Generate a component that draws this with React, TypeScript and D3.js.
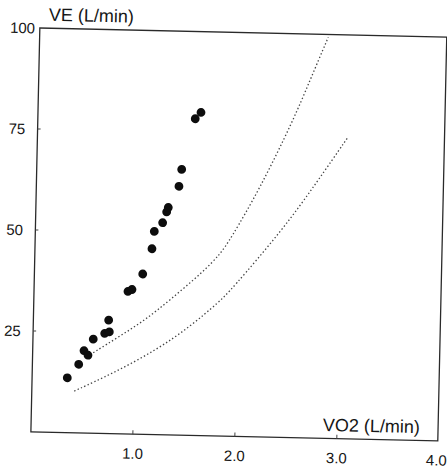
import { useRef, useEffect } from "react";
import * as d3 from "d3";

// VO2 (L/min) vs VE (L/min) measured points
const vo2 = [0.345, 0.454, 0.503, 0.543, 0.591, 0.702, 0.747, 0.738, 0.921, 0.96, 1.062, 1.147, 1.166, 1.246, 1.283, 1.298, 1.398, 1.421, 1.543, 1.598];
const ve = [13.6, 17.0, 20.4, 19.3, 23.3, 24.8, 25.2, 28.1, 35.3, 35.8, 39.7, 46.0, 50.3, 52.5, 55.2, 56.3, 61.6, 65.8, 78.4, 80.0];

// dotted reference curves
const upperX = [0.594, 0.852, 1.094, 1.334, 1.655, 1.815, 1.91, 2.192, 2.505, 2.66, 2.829];
const upperY = [19.95, 24.2, 28.3, 33.4, 40.6, 45.0, 48.6, 61.5, 78.6, 88.6, 99.3];
const lowerX = [0.416, 0.795, 1.214, 1.536, 1.824, 1.92, 2.43, 2.747, 3.047];
const lowerY = [10.35, 15.0, 21.0, 26.9, 33.4, 35.9, 51.6, 63.3, 74.8];

const xTicks = [1, 2, 3, 4];
const yTicks = [25, 50, 75, 100];

export default function App() {
  const svgRef = useRef<SVGSVGElement>(null);

  useEffect(() => {
    const width = 447;
    const height = 468;

    const svg = d3.select(svgRef.current);
    svg.attr("viewBox", `0 0 ${width} ${height}`);
    svg.selectAll("*").remove();

    const x = d3.scaleLinear().domain([0, 4]).range([35.3, 443.3]);
    const y = d3.scaleLinear().domain([0, 100]).range([436.5, 32.5]);

    const font = "Liberation Sans, Arial, sans-serif";
    const ink = "#161616";

    // the scanned figure sits slightly tilted
    const g = svg.append("g").attr("transform", "rotate(1.27, 239, 235)");

    // frame
    g.append("rect")
      .attr("x", x(0))
      .attr("y", y(100))
      .attr("width", x(4) - 1 - x(0))
      .attr("height", y(0) - y(100))
      .attr("fill", "none")
      .attr("stroke", "#2a2a2a")
      .attr("stroke-width", 1.3);

    // x ticks (inward)
    g.append("g")
      .selectAll("line")
      .data(xTicks.slice(0, 3))
      .enter()
      .append("line")
      .attr("x1", (d) => x(d))
      .attr("x2", (d) => x(d))
      .attr("y1", y(0))
      .attr("y2", y(0) - 4)
      .attr("stroke", "#444");

    g.append("g")
      .selectAll("text")
      .data(xTicks)
      .enter()
      .append("text")
      .attr("x", (d) => (d === 4 ? x(d) - 2 : x(d)))
      .attr("y", 461)
      .attr("text-anchor", "middle")
      .attr("fill", ink)
      .attr("font-size", "15px")
      .attr("font-family", font)
      .text((d) => d3.format(".1f")(d));

    // y ticks (inward)
    g.append("g")
      .selectAll("line")
      .data(yTicks.slice(0, 3))
      .enter()
      .append("line")
      .attr("x1", x(0))
      .attr("x2", x(0) + 3)
      .attr("y1", (d) => y(d))
      .attr("y2", (d) => y(d))
      .attr("stroke", "#444");

    g.append("g")
      .selectAll("text")
      .data(yTicks)
      .enter()
      .append("text")
      .attr("x", (d) => (d === 100 ? 30.5 : 23))
      .attr("y", (d) => y(d) + 5.5)
      .attr("text-anchor", "end")
      .attr("fill", ink)
      .attr("font-size", "15px")
      .attr("font-family", font)
      .text((d) => d);

    // axis titles
    g.append("text")
      .attr("x", 44)
      .attr("y", 25)
      .attr("fill", ink)
      .attr("font-size", "18px")
      .attr("font-family", font)
      .text("VE (L/min)");

    g.append("text")
      .attr("x", 327)
      .attr("y", 429)
      .attr("fill", ink)
      .attr("font-size", "18px")
      .attr("font-family", font)
      .text("VO2 (L/min)");

    // dotted curves
    const line = d3
      .line<[number, number]>()
      .x((d) => x(d[0]))
      .y((d) => y(d[1]))
      .curve(d3.curveBasis);

    const curves = [
      d3.zip(upperX, upperY) as [number, number][],
      d3.zip(lowerX, lowerY) as [number, number][],
    ];

    g.append("g")
      .selectAll("path")
      .data(curves)
      .enter()
      .append("path")
      .attr("d", (d) => line(d))
      .attr("fill", "none")
      .attr("stroke", "#444")
      .attr("stroke-width", 1.3)
      .attr("stroke-dasharray", "1.4,2.3");

    // points
    g.append("g")
      .selectAll("circle")
      .data(d3.zip(vo2, ve))
      .enter()
      .append("circle")
      .attr("cx", (d) => x(d[0]))
      .attr("cy", (d) => y(d[1]))
      .attr("r", 4.4)
      .attr("fill", "#0d0d0d");
  }, []);

  return (
    <svg
      ref={svgRef}
      width={447}
      height={468}
      style={{ position: "absolute", left: 0, top: 0, background: "#fff" }}
    />
  );
}
